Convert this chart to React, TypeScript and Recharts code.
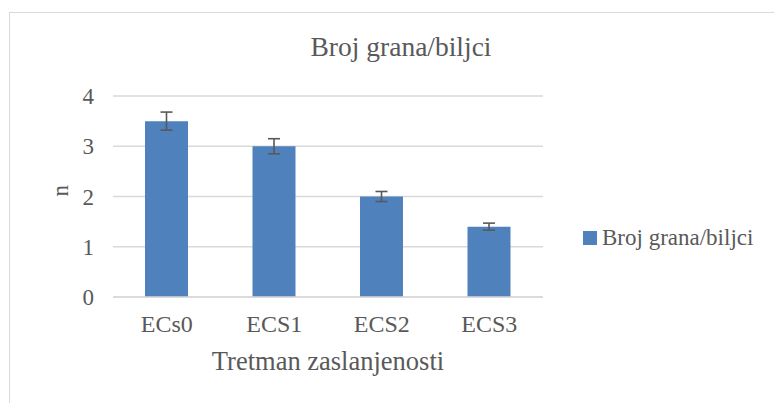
// @ts-nocheck
import React from 'react';
import { ComposedChart, Bar, ErrorBar, XAxis, YAxis, CartesianGrid } from 'recharts';

// values
const categories = ['ECs0', 'ECS1', 'ECS2', 'ECS3'];
const branches = [3.5, 3.0, 2.0, 1.4];
const errors = [0.18, 0.15, 0.1, 0.07];
const yTicks = [0, 1, 2, 3, 4];
const seriesName = 'Broj grana/biljci';

const data = categories.map((name, i) => ({ name, value: branches[i], err: errors[i] }));

const FONT = 'Liberation Serif';
const TEXT = '#595959';
const BLUE = '#4f81bd';

export default function App() {
    return (
        <div style={{ position: 'absolute', left: 0, top: 0, width: 774, height: 403, overflow: 'hidden', background: '#fff', fontFamily: FONT }}>
            <div style={{ position: 'absolute', left: 9, top: 12, width: 800, height: 420, border: '1px solid #d9d9d9' }} />
            <div style={{ position: 'absolute', left: 0, width: 802, top: 31, textAlign: 'center', fontSize: 27.5, lineHeight: '32px', color: TEXT }}>
                Broj grana/biljci
            </div>
            {/* legend drawn by hand so it does not eat into the plot width */}
            <div style={{ position: 'absolute', left: 583, top: 224, display: 'flex', alignItems: 'center', fontSize: 23, lineHeight: '28px', color: TEXT }}>
                <span style={{ display: 'inline-block', width: 14, height: 14, background: BLUE, marginRight: 5 }} />
                <span>{seriesName}</span>
            </div>
            <div style={{ position: 'absolute', left: 0, top: 0 }}>
                <ComposedChart
                    width={774}
                    height={403}
                    data={data}
                    margin={{ top: 96, right: 231, bottom: 50, left: 40 }}
                    style={{ fontFamily: FONT }}
                >
                    <CartesianGrid vertical={false} stroke="#d9d9d9" strokeWidth={1.3} />
                    <XAxis
                        dataKey="name"
                        height={56}
                        tickLine={false}
                        axisLine={{ stroke: '#d9d9d9', strokeWidth: 1.3 }}
                        tickSize={0}
                        tickMargin={18}
                        tick={{ fill: TEXT, fontSize: 24, fontFamily: FONT }}
                        label={{ value: 'Tretman zaslanjenosti', position: 'bottom', offset: -2, fill: TEXT, fontSize: 26.5, fontFamily: FONT }}
                    />
                    <YAxis
                        width={73}
                        domain={[0, 4]}
                        ticks={yTicks}
                        tickLine={false}
                        axisLine={false}
                        tickSize={0}
                        tickMargin={19}
                        tick={{ fill: TEXT, fontSize: 23, fontFamily: FONT }}
                        label={{ value: 'n', angle: -90, position: 'insideLeft', offset: 20, fill: TEXT, fontSize: 23, fontFamily: FONT }}
                    />
                    <Bar dataKey="value" name={seriesName} fill={BLUE} barSize={43} isAnimationActive={false}>
                        <ErrorBar dataKey="err" width={6} stroke="#595959" strokeWidth={1.6} direction="y" />
                    </Bar>
                </ComposedChart>
            </div>
        </div>
    );
}
